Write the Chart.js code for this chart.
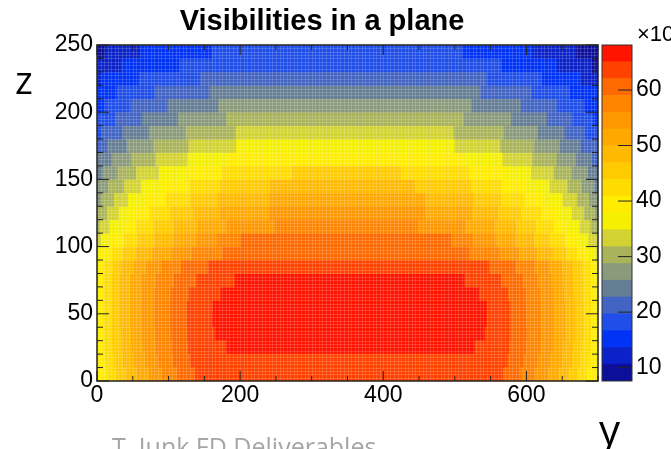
<!DOCTYPE html>
<html>
<head>
<meta charset="utf-8">
<script src="https://cdn.jsdelivr.net/npm/chart.js@4.4.1/dist/chart.umd.min.js"></script>
<style>
  html, body { margin: 0; padding: 0; background: #fff; }
  body { width: 671px; height: 449px; overflow: hidden; position: relative; font-family: "Liberation Sans", Arial, sans-serif; }
  #mapBox { position: absolute; left: 0; top: 0; width: 610px; height: 449px; }
  #barBox { position: absolute; left: 590px; top: 0; width: 81px; height: 449px; }
  .txt { position: absolute; white-space: nowrap; line-height: 1; }
  #title { left: 0; width: 644px; top: 6px; text-align: center; font-weight: bold; font-size: 29px; }
  #zLab { left: 15px; top: 60px; font-family: "Open Sans", sans-serif; font-size: 38px; }
  #yLab { left: 599px; top: 408px; font-family: "Open Sans", sans-serif; font-size: 42px; }
  #credit { left: 112px; top: 434px; font-family: "Open Sans", sans-serif; font-size: 25px; color: #a6a6a6; }
  #expo { left: 637px; top: 23px; font-size: 22px; }
</style>
</head>
<body>
<div id="mapBox"><canvas id="mapChart"></canvas></div>
<div id="barBox"><canvas id="paletteChart"></canvas></div>
<div class="txt" id="title">Visibilities in a plane</div>
<div class="txt" id="zLab">z</div>
<div class="txt" id="yLab">y</div>
<div class="txt" id="credit">T. Junk FD Deliverables</div>
<div class="txt" id="expo">×10</div>
<script>
// axes
const yRange = [0, 700];
const zRange = [0, 250];
const yTickLabels = [0, 200, 400, 600];
const zTickLabels = [0, 50, 100, 150, 200, 250];
const paletteTicks = [10, 20, 30, 40, 50, 60];
const paletteRange = [7.6, 68.1];   // colour scale (x10^..)

// 20 contour bands, low -> high
const palette = ['#0b0f99', '#0a22c8', '#0033f5', '#1f4ee8', '#4264c2', '#667e94', '#8a9a7a', '#a9b35a', '#d2d232', '#f5f000',
                 '#ffec00', '#ffdc00', '#ffca00', '#ffb900', '#ffa800', '#ff9700', '#ff8500', '#ff6a00', '#ff4200', '#ff1400'];

// rows of the map (z centre of each 10 cm row)
const zRows = [5, 15, 25, 35, 45, 55, 65, 75, 85, 95, 105, 115, 125, 135, 145, 155, 165, 175, 185, 195, 205, 215, 225, 235, 245];
// band at y = 0 for each row
const edgeLevel = [10, 10, 10, 10, 10, 10, 10, 10, 10, 9, 8, 7, 7, 6, 6, 5, 5, 4, 3, 3, 2, 2, 1, 1, 0];
// y where the band goes up by one (left side)
const riseY = [
  [13, 26, 40, 55, 72, 90, 111, 136],
  [11, 23, 36, 50, 67, 85, 106, 130],
  [10, 21, 34, 48, 64, 82, 104, 127, 180],
  [9, 20, 33, 47, 63, 81, 103, 126, 164],
  [9, 20, 32, 46, 62, 80, 102, 125, 160],
  [9, 20, 32, 46, 62, 80, 102, 125, 161],
  [9, 20, 32, 46, 62, 80, 103, 128, 172],
  [9, 20, 32, 46, 62, 82, 107, 138, 192],
  [10, 22, 34, 50, 68, 89, 117, 155],
  [6, 21, 36, 54, 77, 103, 132, 175],
  [5, 19, 37, 56, 80, 108, 138, 168, 200],
  [3, 17, 35, 54, 78, 107, 139, 180, 248],
  [13, 30, 50, 73, 102, 134, 171, 240],
  [6, 23, 43, 67, 96, 130, 168, 240],
  [15, 37, 61, 92, 129, 171, 241],
  [7, 28, 54, 86, 127, 174, 272],
  [20, 47, 81, 126, 182],
  [13, 41, 78, 127, 194],
  [6, 35, 72, 123, 193],
  [25, 62, 113, 180],
  [10, 46, 98, 169],
  [27, 80, 157],
  [6, 58, 143],
  [33, 115],
  [11, 60, 160]
];
// y where the band goes down by one (right side)
const fallY = [
  [568, 592, 612, 630, 645, 659, 672, 685],
  [574, 597, 617, 634, 650, 664, 676, 688],
  [528, 577, 600, 620, 637, 652, 666, 678, 690],
  [542, 578, 601, 621, 638, 654, 668, 680, 691],
  [545, 578, 600, 620, 638, 654, 668, 680, 691],
  [545, 578, 600, 620, 638, 654, 668, 680, 691],
  [534, 575, 599, 619, 637, 653, 667, 679, 690],
  [514, 565, 595, 617, 636, 652, 666, 679, 690],
  [548, 585, 612, 633, 650, 665, 678, 690],
  [521, 563, 590, 615, 637, 656, 671, 685, 698],
  [495, 525, 557, 584, 611, 633, 654, 671, 687],
  [449, 515, 556, 586, 614, 638, 658, 675, 690],
  [459, 524, 561, 593, 621, 644, 664, 681, 696],
  [459, 527, 565, 598, 627, 651, 671, 688],
  [445, 523, 566, 602, 633, 658, 678, 695],
  [425, 521, 568, 607, 639, 664, 686],
  [512, 567, 609, 643, 670, 692],
  [500, 564, 611, 647, 676],
  [499, 569, 616, 654, 682],
  [513, 579, 629, 665, 694],
  [524, 593, 644, 681],
  [536, 608, 661],
  [545, 622, 676],
  [565, 643, 692],
  [511, 609, 670]
];

Chart.defaults.font.family = '"Liberation Sans", Arial, sans-serif';
Chart.defaults.color = '#000';

const bandWidth = (paletteRange[1] - paletteRange[0]) / palette.length;

// one dataset per band, each run of a row is a floating bar
const bandSets = palette.map((c, k) => ({
  label: (paletteRange[0] + bandWidth * (k + 0.5)).toFixed(1),
  data: [],
  backgroundColor: c,
  borderWidth: 0,
  grouped: false,
  barPercentage: 1,
  categoryPercentage: 1
}));
zRows.forEach((z, r) => {
  let level = edgeLevel[r];
  let from = yRange[0];
  riseY[r].forEach(v => { bandSets[level].data.push({ x: [from, v], y: z }); level++; from = v; });
  fallY[r].forEach(v => { bandSets[level].data.push({ x: [from, v], y: z }); level--; from = v; });
  bandSets[level].data.push({ x: [from, yRange[1]], y: z });
});

// ROOT style frame: fine bin mesh, inner ticks on all four sides
const rootFrame = {
  id: 'rootFrame',
  afterDatasetsDraw(chart) {
    const { ctx, chartArea: a, scales: { x, y } } = chart;
    ctx.save();
    ctx.strokeStyle = 'rgba(255,255,255,0.16)';
    ctx.lineWidth = 1;
    ctx.beginPath();
    for (let v = yRange[0]; v <= yRange[1]; v += 5) {
      const p = Math.round(x.getPixelForValue(v)) + 0.5;
      ctx.moveTo(p, a.top); ctx.lineTo(p, a.bottom);
    }
    for (let v = zRange[0]; v <= zRange[1]; v += 2.5) {
      const p = Math.round(y.getPixelForValue(v)) + 0.5;
      ctx.moveTo(a.left, p); ctx.lineTo(a.right, p);
    }
    ctx.stroke();

    ctx.strokeStyle = '#222';
    ctx.beginPath();
    for (let v = zRange[0]; v <= zRange[1]; v += 10) {
      const p = y.getPixelForValue(v);
      const len = v % 50 === 0 ? 12 : 6;
      ctx.moveTo(a.left, p); ctx.lineTo(a.left + len, p);
      ctx.moveTo(a.right, p); ctx.lineTo(a.right - len, p);
    }
    for (let v = yRange[0]; v <= yRange[1]; v += 50) {
      const p = x.getPixelForValue(v);
      const len = v % 200 === 0 ? 10 : 5;
      ctx.moveTo(p, a.bottom); ctx.lineTo(p, a.bottom - len);
      ctx.moveTo(p, a.top); ctx.lineTo(p, a.top + len);
    }
    ctx.stroke();
    ctx.lineWidth = 1.5;
    ctx.strokeRect(a.left, a.top, a.width, a.height);
    ctx.restore();
  }
};

new Chart(document.getElementById('mapChart'), {
  type: 'bar',
  data: { datasets: bandSets },
  options: {
    indexAxis: 'y',
    responsive: true,
    maintainAspectRatio: false,
    animation: false,
    layout: { padding: { left: 0, top: 45, right: 12, bottom: 0 } },
    plugins: { legend: { display: false }, tooltip: { enabled: false } },
    scales: {
      x: {
        type: 'linear', min: yRange[0], max: yRange[1],
        grid: { display: false, drawTicks: false }, border: { display: false },
        afterBuildTicks: s => { s.ticks = yTickLabels.map(v => ({ value: v })); },
        afterFit: s => { s.height = 68; },
        ticks: { autoSkip: false, maxRotation: 0, padding: 1, font: { size: 23 } }
      },
      y: {
        type: 'linear', min: zRange[0], max: zRange[1], offset: false,
        grid: { display: false, drawTicks: false }, border: { display: false },
        afterBuildTicks: s => { s.ticks = zTickLabels.map(v => ({ value: v })); },
        afterFit: s => { s.width = 97; },
        ticks: { autoSkip: false, padding: 4, font: { size: 23 } }
      }
    }
  },
  plugins: [rootFrame]
});

// colour palette on the right
const paletteFrame = {
  id: 'paletteFrame',
  afterDatasetsDraw(chart) {
    const { ctx, chartArea: a, scales: { y } } = chart;
    ctx.save();
    ctx.strokeStyle = '#222';
    ctx.lineWidth = 1;
    ctx.beginPath();
    paletteTicks.forEach(v => {
      const p = y.getPixelForValue(v);
      ctx.moveTo(a.right, p); ctx.lineTo(a.right - 14, p);
    });
    ctx.stroke();
    ctx.strokeStyle = '#333';
    ctx.strokeRect(a.left, a.top, a.width, a.height);
    ctx.restore();
  }
};

new Chart(document.getElementById('paletteChart'), {
  type: 'bar',
  data: {
    labels: ['palette'],
    datasets: palette.map((c, k) => ({
      data: [[paletteRange[0] + bandWidth * k, paletteRange[0] + bandWidth * (k + 1)]],
      backgroundColor: c,
      borderWidth: 0,
      grouped: false,
      barPercentage: 1,
      categoryPercentage: 1
    }))
  },
  options: {
    responsive: true,
    maintainAspectRatio: false,
    animation: false,
    layout: { padding: { left: 12, top: 45, right: 0, bottom: 68 } },
    plugins: { legend: { display: false }, tooltip: { enabled: false } },
    scales: {
      x: { display: false },
      y: {
        type: 'linear', position: 'right', min: paletteRange[0], max: paletteRange[1],
        grid: { display: false, drawTicks: false }, border: { display: false },
        afterBuildTicks: s => { s.ticks = paletteTicks.map(v => ({ value: v })); },
        afterFit: s => { s.width = 39; },
        ticks: { autoSkip: false, padding: 4, font: { size: 23 } }
      }
    }
  },
  plugins: [paletteFrame]
});
</script>
</body>
</html>
